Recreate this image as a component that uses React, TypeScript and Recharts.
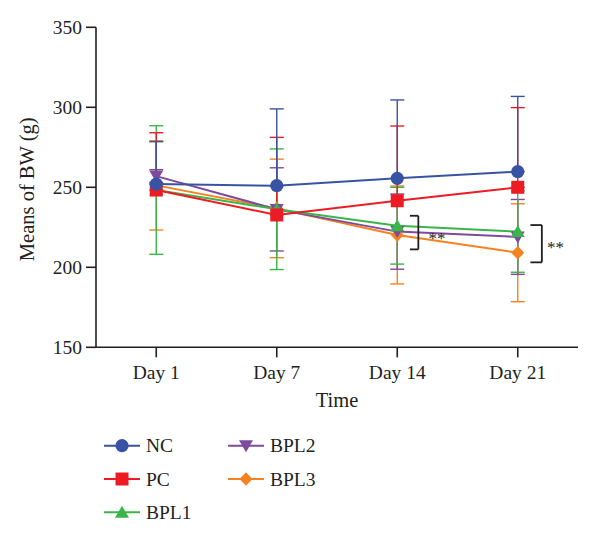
import React from 'react';
import {
  LineChart,
  Line,
  XAxis,
  YAxis,
  ErrorBar,
  ReferenceLine,
  ReferenceDot,
  Legend,
} from 'recharts';

// Sampling days and axis ticks
const days = ['Day 1', 'Day 7', 'Day 14', 'Day 21'];
const yTicks = [150, 200, 250, 300, 350];

// Mean body weight (g) and SD per group
const ncMean = [252, 251, 255.6, 259.8];
const ncSD = [26.5, 48, 49, 47];
const pcMean = [248.3, 232.7, 241.6, 250];
const pcSD = [35.8, 48.5, 46.7, 49.8];
const bpl1Mean = [248.3, 236.3, 226, 222.3];
const bpl1SD = [40.2, 37.7, 24, 25.4];
const bpl2Mean = [257, 236.2, 222.3, 219];
const bpl2SD = [4, 26, 23.5, 23.4];
const bpl3Mean = [251.2, 236.8, 220.2, 209.1];
const bpl3SD = [27.9, 30.8, 30.6, 30.6];

// Significance brackets: day index, top / bottom of bracket (g), label
const bracketDay = [3, 4];
const bracketTop = [232.2, 226.4];
const bracketBottom = [211.2, 203.1];
const bracketText = ['**', '**'];
const bracketTextY = [219.8, 214.4];

const FONT = '"Liberation Serif", "Times New Roman", serif';
const INK = '#231f20';

type Shape = 'circle' | 'square' | 'up' | 'down' | 'diamond';

const series: {
  key: string;
  mean: number[];
  sd: number[];
  upperOnly: boolean;
  color: string;
  shape: Shape;
}[] = [
  { key: 'NC', mean: ncMean, sd: ncSD, upperOnly: true, color: '#3953a4', shape: 'circle' },
  { key: 'PC', mean: pcMean, sd: pcSD, upperOnly: true, color: '#ed1c24', shape: 'square' },
  { key: 'BPL1', mean: bpl1Mean, sd: bpl1SD, upperOnly: false, color: '#39b54a', shape: 'up' },
  { key: 'BPL2', mean: bpl2Mean, sd: bpl2SD, upperOnly: false, color: '#7f4a9d', shape: 'down' },
  { key: 'BPL3', mean: bpl3Mean, sd: bpl3SD, upperOnly: false, color: '#f58220', shape: 'diamond' },
];

const rows = days.map((day, i) => {
  const row: Record<string, any> = { x: i + 1, day };
  series.forEach((s) => {
    row[s.key] = s.mean[i];
    row[`${s.key}_err`] = s.upperOnly ? [0, s.sd[i]] : s.sd[i];
  });
  return row;
});

function Marker({ shape, cx, cy, color }: { shape: Shape; cx: number; cy: number; color: string }) {
  switch (shape) {
    case 'circle':
      return <circle cx={cx} cy={cy} r={6.6} fill={color} />;
    case 'square':
      return <rect x={cx - 6.5} y={cy - 6.5} width={13} height={13} fill={color} />;
    case 'up':
      return (
        <polygon
          points={`${cx},${cy - 6.5} ${cx + 7},${cy + 5.5} ${cx - 7},${cy + 5.5}`}
          fill={color}
        />
      );
    case 'down':
      return (
        <polygon
          points={`${cx - 7},${cy - 5.5} ${cx + 7},${cy - 5.5} ${cx},${cy + 6.5}`}
          fill={color}
        />
      );
    default:
      return (
        <polygon
          points={`${cx},${cy - 6.8} ${cx + 6.5},${cy} ${cx},${cy + 6.8} ${cx - 6.5},${cy}`}
          fill={color}
        />
      );
  }
}

// Two-column legend: NC / PC / BPL1 in the first column, BPL2 / BPL3 in the second
function LegendGrid() {
  const colX = [104, 228];
  const rowY = [20.7, 54, 87.3];
  return (
    <svg width={600} height={110} style={{ display: 'block' }}>
      {series.map((s, i) => {
        const col = Math.floor(i / 3);
        const r = i % 3;
        const x0 = colX[col];
        const y = rowY[r];
        return (
          <g key={s.key}>
            <line x1={x0} x2={x0 + 36} y1={y} y2={y} stroke={s.color} strokeWidth={2} />
            <Marker shape={s.shape} cx={x0 + 18} cy={y} color={s.color} />
            <text
              x={x0 + 42}
              y={y + 6.6}
              fontFamily={FONT}
              fontSize={19.5}
              fill={INK}
            >
              {s.key}
            </text>
          </g>
        );
      })}
    </svg>
  );
}

const yLabel = (props: any) => {
  const vb = props.viewBox;
  const x = vb.x + 34;
  const y = vb.y + vb.height / 2 + 2;
  return (
    <text
      x={x}
      y={y}
      transform={`rotate(-90 ${x} ${y})`}
      textAnchor="middle"
      fontFamily={FONT}
      fontSize={20.5}
      fill={INK}
    >
      Means of BW (g)
    </text>
  );
};

const xLabel = (props: any) => {
  const vb = props.viewBox;
  return (
    <text
      x={vb.x + vb.width / 2}
      y={vb.y + 60}
      textAnchor="middle"
      fontFamily={FONT}
      fontSize={20.5}
      fill={INK}
    >
      Time
    </text>
  );
};

const starLabel = (text: string) => (props: any) => {
  const vb = props.viewBox;
  return (
    <text
      x={vb.x + vb.width / 2}
      y={vb.y + vb.height / 2 + 8.5}
      textAnchor="middle"
      fontFamily={FONT}
      fontSize={17}
      fill={INK}
    >
      {text}
    </text>
  );
};

export default function App() {
  const drawOrder = [...series].reverse();
  return (
    <div style={{ position: 'absolute', left: 0, top: 0, width: 600, height: 540, background: '#fff' }}>
      <LineChart
        width={600}
        height={540}
        data={rows}
        margin={{ top: 27.3, right: 22, left: 0, bottom: 132.7 }}
      >
        <XAxis
          type="number"
          dataKey="x"
          domain={[0.5, 4.5]}
          ticks={[1, 2, 3, 4]}
          tickFormatter={(v: number) => days[v - 1]}
          height={60}
          axisLine={{ stroke: INK, strokeWidth: 1.6 }}
          tickLine={{ stroke: INK, strokeWidth: 1.6 }}
          tickSize={10}
          tickMargin={8}
          tick={{ fill: INK, fontSize: 19.5, fontFamily: FONT }}
          label={xLabel}
          allowDecimals
        />
        <YAxis
          type="number"
          domain={[150, 350]}
          ticks={yTicks}
          width={96}
          axisLine={{ stroke: INK, strokeWidth: 1.6 }}
          tickLine={{ stroke: INK, strokeWidth: 1.6 }}
          tickSize={10}
          tickMargin={4}
          tick={{ fill: INK, fontSize: 19.5, fontFamily: FONT }}
          label={yLabel}
        />
        {drawOrder.map((s) => (
          <Line
            key={s.key}
            dataKey={s.key}
            name={s.key}
            stroke={s.color}
            strokeWidth={2}
            isAnimationActive={false}
            activeDot={false}
            dot={(p: any) => (
              <Marker key={`${s.key}-${p.index}`} shape={s.shape} cx={p.cx} cy={p.cy} color={s.color} />
            )}
          >
            <ErrorBar
              dataKey={`${s.key}_err`}
              direction="y"
              width={7}
              stroke={s.color}
              strokeWidth={1.4}
              isAnimationActive={false}
            />
          </Line>
        ))}
        {bracketDay.map((d, i) => {
          const xl = d + 0.105;
          const xr = d + (i === 0 ? 0.175 : 0.2);
          return (
            <React.Fragment key={`br-${i}`}>
              <ReferenceLine
                segment={[{ x: xr, y: bracketTop[i] }, { x: xr, y: bracketBottom[i] }]}
                stroke={INK}
                strokeWidth={1.8}
              />
              <ReferenceLine
                segment={[{ x: xl, y: bracketTop[i] }, { x: xr, y: bracketTop[i] }]}
                stroke={INK}
                strokeWidth={1.8}
              />
              <ReferenceLine
                segment={[{ x: xl, y: bracketBottom[i] }, { x: xr, y: bracketBottom[i] }]}
                stroke={INK}
                strokeWidth={1.8}
              />
              <ReferenceDot
                x={d + (i === 0 ? 0.33 : 0.313)}
                y={bracketTextY[i]}
                r={0}
                fill="none"
                stroke="none"
                label={starLabel(bracketText[i])}
              />
            </React.Fragment>
          );
        })}
        <Legend
          layout="horizontal"
          verticalAlign="middle"
          align="center"
          wrapperStyle={{ top: 425, left: 0, width: 600, height: 110 }}
          content={() => <LegendGrid />}
        />
      </LineChart>
    </div>
  );
}
